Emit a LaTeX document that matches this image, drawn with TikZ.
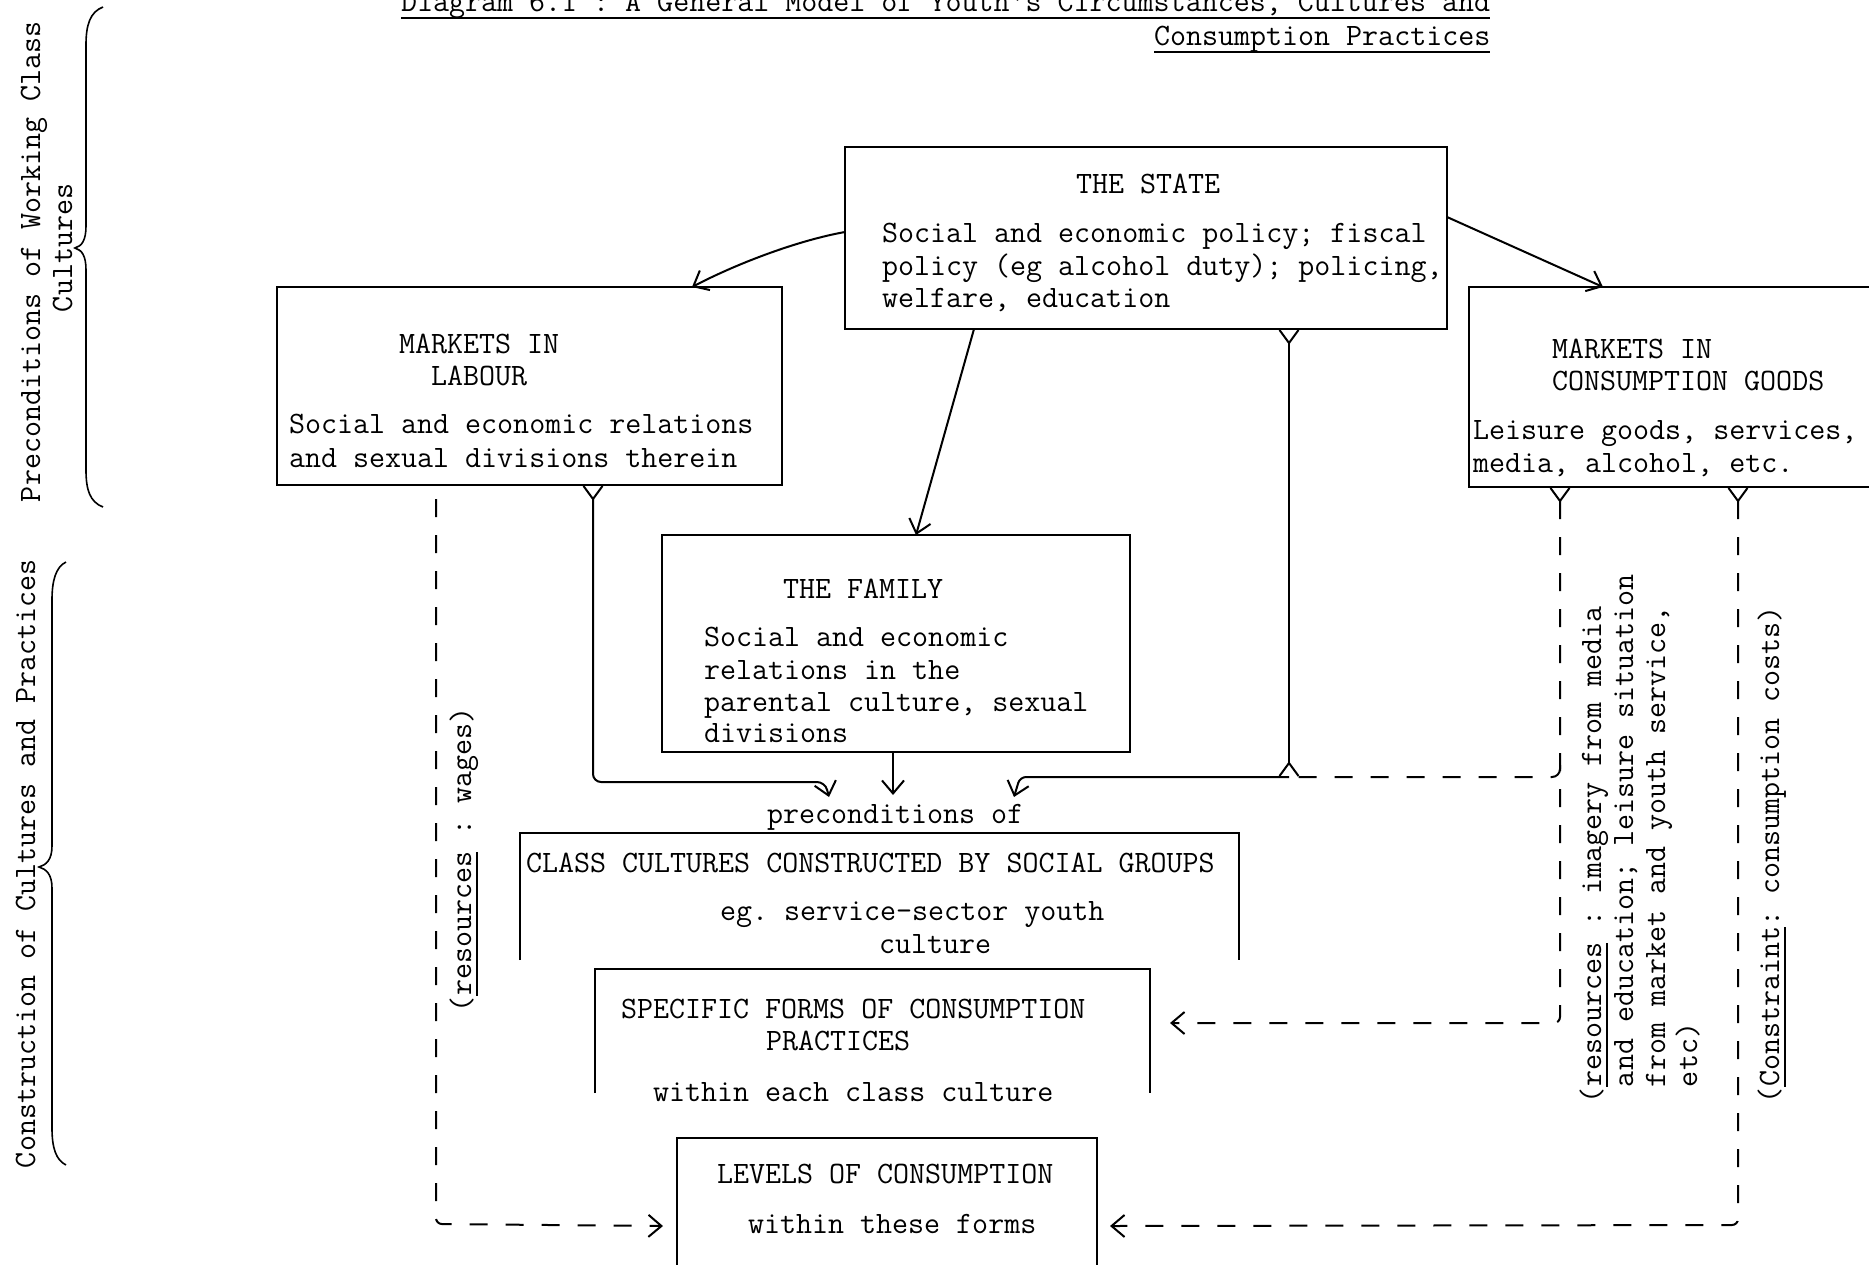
\documentclass[tikz,border=0pt]{standalone}
\usetikzlibrary{arrows.meta,calc}
\newcommand\myul[2][8pt]{\setbox0\hbox{#2}\rlap{\rule[-#1]{\wd0}{1.8pt}}\box0\relax}
\tikzset{
  vtip/.tip={Straight Barb[length=13pt,width=22pt]},
  ytl/.tip={Straight Barb[reversed,length=13pt,width=19pt]},
}
\begin{document}
\begin{tikzpicture}[x=1pt,y=-1pt,
  txt/.style={inner sep=0pt,outer sep=0pt,anchor=base west,font=\fontsize{31.1}{33}\selectfont\ttfamily\frenchspacing},
  vtxt/.style={txt,rotate=90},
  frame/.style={inner sep=0pt,outer sep=0pt,rectangle},
  edge/.style={line width=2.8pt},
  conn/.style={line width=2pt,line join=round},
  dsh/.style={conn,dash pattern=on 18pt off 18pt},
  brc/.style={line width=1.6pt},
]
\fill[white] (0,0) rectangle (1869,1264);
\useasboundingbox (0,0) rectangle (1869,1264);

% ---------- boxes ----------
\node[frame,minimum width=602pt,minimum height=182pt] (state)  at (1146,238) {};
\node[frame,minimum width=505pt,minimum height=198pt] (labour) at (529.5,386) {};
\node[frame,minimum width=431pt,minimum height=200pt] (cons)   at (1684.5,387) {};
\node[frame,minimum width=468pt,minimum height=217pt] (family) at (896,643.5) {};
\node[frame,minimum width=719pt,minimum height=127pt] (cls)    at (879.5,896.5) {};
\node[frame,minimum width=555pt,minimum height=124pt] (spec)   at (872.5,1031) {};
\node[frame,minimum width=420pt,minimum height=152pt] (lev)    at (887,1214) {};

\draw[edge] (state.south west) rectangle (state.north east);
\draw[edge] (labour.south west) rectangle (labour.north east);
\draw[edge] (cons.south west) rectangle (cons.north east);
\draw[edge] (family.south west) rectangle (family.north east);
\draw[edge] (cls.south west) -- (cls.north west) -- (cls.north east) -- (cls.south east);
\draw[edge] (spec.south west) -- (spec.north west) -- (spec.north east) -- (spec.south east);
\draw[edge] (lev.south west) -- (lev.north west) -- (lev.north east) -- (lev.south east);

% ---------- title ----------
\node[txt] (t1) at (401,11) {\myul{Diagram 6.1 : A General Model of Youth's Circumstances, Cultures and}};
\node[txt] (t2) at (1154,45) {\myul{Consumption Practices}};

% ---------- box texts ----------
\node[txt] (st0) at (1076,193) {THE STATE};
\node[txt] (st1) at (882,242) {Social and economic policy; fiscal};
\node[txt] (st2) at (882,275) {policy (eg alcohol duty); policing,};
\node[txt] (st3) at (882,307) {welfare, education};

\node[txt] (lb0) at (399,353) {MARKETS IN};
\node[txt] (lb1) at (431,385) {LABOUR};
\node[txt] (lb2) at (289,433) {Social and economic relations};
\node[txt] (lb3) at (289,467) {and sexual divisions therein};

\node[txt] (cg0) at (1552,358) {MARKETS IN};
\node[txt] (cg1) at (1552,390) {CONSUMPTION GOODS};
\node[txt] (cg2) at (1473,439) {Leisure goods, services,};
\node[txt] (cg3) at (1473,472) {media, alcohol, etc.};

\node[txt] (fm0) at (783,598) {THE FAMILY};
\node[txt] (fm1) at (704,646) {Social and economic};
\node[txt] (fm2) at (704,679) {relations in the};
\node[txt] (fm3) at (704,711) {parental culture, sexual};
\node[txt] (fm4) at (704,742) {divisions};

\node[txt] (prec) at (767,823) {preconditions of};

\node[txt] (cl0) at (526,872) {CLASS CULTURES CONSTRUCTED BY SOCIAL GROUPS};
\node[txt] (cl1) at (720,920) {eg. service-sector youth};
\node[txt] (cl2) at (879,953) {culture};

\node[txt] (sp0) at (621,1018) {SPECIFIC FORMS OF CONSUMPTION};
\node[txt] (sp1) at (766,1050) {PRACTICES};
\node[txt] (sp2) at (653,1101) {within each class culture};

\node[txt] (lv0) at (717,1183) {LEVELS OF CONSUMPTION};
\node[txt] (lv1) at (748,1233) {within these forms};

% ---------- rotated labels ----------
\node[vtxt] (pw1) at (40,502) {Preconditions of Working Class};
\node[vtxt] (pw2) at (72,312) {Cultures};
\node[vtxt] (cc1) at (35,1168) {Construction of Cultures and Practices};
\node[vtxt] (wg)  at (471,1012) {(\myul[7pt]{resources} : wages)};
\node[vtxt] (rs1) at (1601,1103) {(\myul[7pt]{resources} : imagery from media};
\node[vtxt] (rs2) at (1633,1087) {and education; leisure situation};
\node[vtxt] (rs3) at (1665,1087) {from market and youth service,};
\node[vtxt] (rs4) at (1697,1087) {etc)};
\node[vtxt] (cs)  at (1779,1103) {(\myul[7pt]{Constraint}: consumption costs)};

% ---------- braces ----------
\draw[brc] (103,7) .. controls (90,12) and (86,25) .. (86,45) -- (86,226)
  .. controls (86,240) and (82,246) .. (75,248) .. controls (82,250) and (86,256) .. (86,270)
  -- (86,470) .. controls (86,490) and (90,502) .. (103,507);
\draw[brc] (66,562) .. controls (56,567) and (52,580) .. (52,600) -- (52,846)
  .. controls (52,860) and (46,865) .. (39,867) .. controls (46,869) and (52,874) .. (52,888)
  -- (52,1128) .. controls (52,1148) and (56,1160) .. (66,1165);

% ---------- connectors ----------
\coordinate (junc) at (1289,777);
\coordinate (pin1) at (829,797);
\coordinate (pin2) at (893,795);
\coordinate (pin3) at (1014,797);

\draw[conn,-vtip] ($(state.west)+(0,-6)$) .. controls ($(state.west)+(-45,2)$) and ($(state.west)+(-105,24)$) .. ($(labour.north west)+(415,0)$);
\draw[conn,-vtip] ($(state.north east)+(0,70)$) -- ($(cons.north west)+(134,0)$);
\draw[conn,-vtip] ($(state.south west)+(129,0)$) -- ($(family.north west)+(254,0)$);
\draw[conn,ytl-ytl] ($(state.south west)+(444,0)$) -- (junc);
\draw[conn,-vtip,rounded corners=6pt] (junc) -- (1020,777) -- (pin3);
\draw[conn,ytl-vtip,rounded corners=8pt] ($(labour.south west)+(316,0)$) -- ++(0,297) -- (825,782) -- (pin1);
\draw[conn,-vtip] ($(family.south west)+(231,0)$) -- (pin2);

\draw[dsh,ytl-vtip,rounded corners=6pt] ($(cons.south west)+(91,0)$) -- ++(0,536) -- ($(spec.north east)+(20,54)$);
\draw[dsh,rounded corners=8pt] ($(cons.south west)+(91,278)$) |- (junc);
\draw[dsh,ytl-vtip,rounded corners=6pt] ($(cons.south west)+(269,0)$) -- ++(0,738) -- ($(lev.north east)+(13,88)$);
\draw[dsh,-vtip,rounded corners=6pt] ($(labour.south west)+(159,14)$) -- ++(0,725) -- ($(lev.north west)+(-14,88)$);
\end{tikzpicture}
\end{document}
